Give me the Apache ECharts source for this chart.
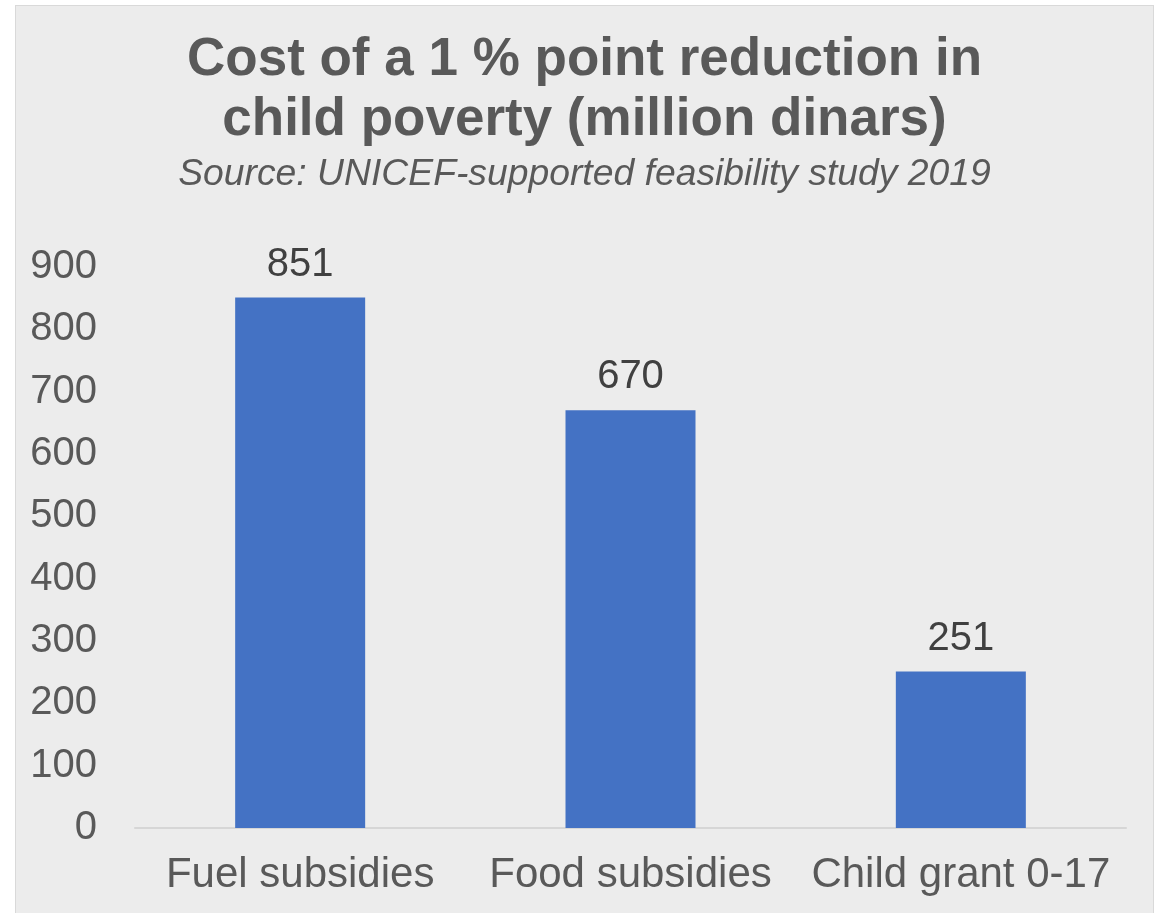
<!DOCTYPE html>
<html>
<head>
    <meta charset="utf-8">
    <script src="https://cdn.jsdelivr.net/npm/echarts@6/dist/echarts.min.js"></script>
    <title>Child poverty cost</title>
    <style>
        body { margin: 0; background: #ffffff; }
        #main { position: absolute; left: 15px; top: 5px; width: 1137px; height: 920px;
                border: 1px solid #d9d9d9; background: #ececec; }
    </style>
</head>
<body>
    <div id="main"></div>
    <script type="text/javascript">
        var categories = ['Fuel subsidies', 'Food subsidies', 'Child grant 0-17'];
        var costs = [851, 670, 251];
        var titleText = 'Cost of a 1 % point reduction in\nchild poverty (million dinars)';
        var subText = 'Source: UNICEF-supported feasibility study 2019';

        var font = '"Liberation Sans", Arial, sans-serif';
        var myChart = echarts.init(document.getElementById('main'));

        myChart.setOption({
            backgroundColor: '#ececec',
            title: [{
                text: titleText,
                left: 'center',
                top: 19,
                textStyle: {
                    fontFamily: font,
                    fontSize: 53,
                    fontWeight: 'bold',
                    lineHeight: 60,
                    color: '#595959'
                }
            }, {
                text: subText,
                left: 'center',
                top: 145,
                textStyle: {
                    fontFamily: font,
                    fontSize: 37.3,
                    fontStyle: 'italic',
                    fontWeight: 'normal',
                    lineHeight: 37,
                    color: '#595959'
                }
            }],
            grid: {
                left: 119,
                right: 27,
                top: 261,
                height: 561
            },
            xAxis: {
                type: 'category',
                data: categories,
                axisLine: { lineStyle: { color: '#d6d6d6', width: 2 } },
                axisTick: { show: false },
                axisLabel: {
                    interval: 0,
                    margin: 26,
                    fontFamily: font,
                    fontSize: 42,
                    color: '#595959'
                }
            },
            yAxis: {
                type: 'value',
                min: 0,
                max: 900,
                interval: 100,
                axisLine: { show: false },
                axisTick: { show: false },
                splitLine: { show: false },
                axisLabel: {
                    margin: 38,
                    fontFamily: font,
                    fontSize: 40,
                    color: '#595959'
                }
            },
            series: [{
                type: 'bar',
                data: costs,
                barWidth: 130,
                itemStyle: { color: '#4472c4' },
                label: {
                    show: true,
                    position: 'top',
                    distance: 13,
                    fontFamily: font,
                    fontSize: 40,
                    color: '#404040'
                }
            }]
        });
    </script>
</body>
</html>
